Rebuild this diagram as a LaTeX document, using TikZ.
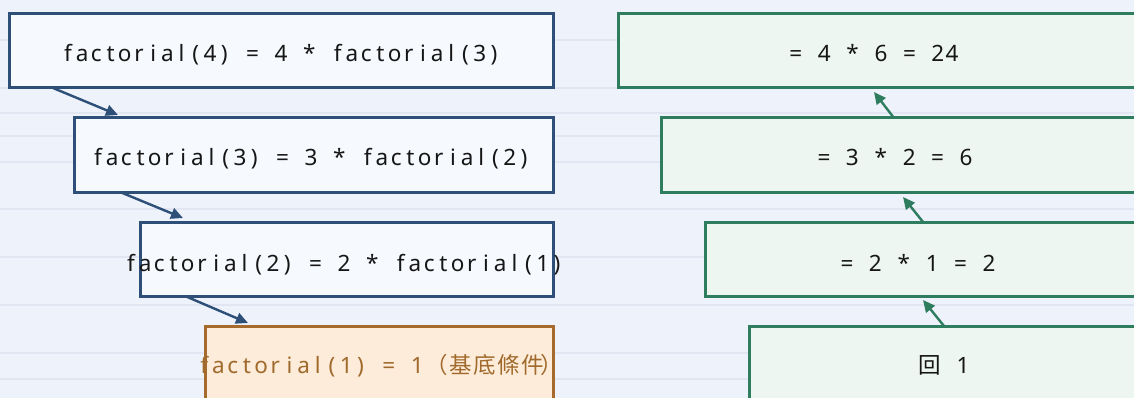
\documentclass[tikz,border=0pt]{standalone}
\usepackage{fontspec}
\setmainfont{Noto Sans}
\newfontfamily\cjk{Noto Sans CJK TC}
\usetikzlibrary{arrows.meta,calc}

\definecolor{bg}{HTML}{EEF2FA}
\definecolor{rule}{HTML}{E1E6F2}
\definecolor{callline}{HTML}{2E4F78}
\definecolor{callfill}{HTML}{F6F9FD}
\definecolor{retline}{HTML}{2E7D5E}
\definecolor{retfill}{HTML}{EDF6F1}
\definecolor{basecol}{HTML}{A66B2C}
\definecolor{basefill}{HTML}{FDECD9}
\definecolor{basetext}{HTML}{A06A2C}
\definecolor{ink}{HTML}{161616}

% set a string one character per fixed-width cell (spaces written as ~)
\newlength\cellwd
\newcommand\cells[2]{\setlength\cellwd{#1}\cellloop#2\relax}
\def\cellloop#1{\ifx\relax#1\else\makebox[\cellwd][c]{#1}\expandafter\cellloop\fi}

\tikzset{
  box/.style={draw, line width=3pt, inner sep=0pt, outer sep=0pt,
    anchor=north west, minimum height=74pt},
  callbox/.style={box, draw=callline, fill=callfill},
  retbox/.style={box, draw=retline, fill=retfill, minimum width=560pt},
  basebox/.style={box, draw=basecol, fill=basefill},
  boxtext/.style={inner sep=0pt, anchor=base, text=ink,
    font=\fontsize{22.5}{27}\selectfont},
  callarrow/.style={draw=callline, line width=2.4pt,
    -{Triangle[length=12pt,width=11pt]}},
  retarrow/.style={draw=retline, line width=2.4pt,
    -{Triangle[length=12pt,width=11pt]}},
}

\begin{document}
\begin{tikzpicture}[x=1pt,y=-1pt]
\useasboundingbox (0,0) rectangle (1134,398);
\clip (0,0) rectangle (1134,398);

% ruled background
\fill[bg] (0,0) rectangle (1134,398);
\foreach \yy in {40,88,113,136,162,209,257,305,353,379}
  \draw[rule, line width=2.5pt] (0,\yy) -- (1134,\yy);

% recursive calls going down
\node[callbox, minimum width=544pt] (c4) at (9,14) {};
\node[callbox, minimum width=479pt] (c3) at (74,118) {};
\node[callbox, minimum width=413pt] (c2) at (140,222) {};
\node[basebox, minimum width=348pt] (c1) at (205,326) {};

% returned values going up
\node[retbox] (r4) at (618,14) {};
\node[retbox] (r3) at (661,118) {};
\node[retbox] (r2) at (705,222) {};
\node[retbox] (r1) at (749,326) {};

% texts
\node[boxtext] (t4) at (281,62) {\cells{14.2pt}{factorial(4)~=~4~*~factorial(3)}};
\node[boxtext] (t3) at (311,166) {\cells{14.2pt}{factorial(3)~=~3~*~factorial(2)}};
\node[boxtext] (t2) at (344,271) {\cells{14.2pt}{factorial(2)~=~2~*~factorial(1)}};
\node[boxtext, anchor=base west, text=basetext] (t1) at (197,373)
  {\cells{14.2pt}{factorial(1)~=~1}{\cjk\cells{24pt}{（基底條件}\kern-5pt\cells{24pt}{）}}};

\node[boxtext] (s4) at (874,62) {\cells{14.2pt}{=~4~*~6~=~24}};
\node[boxtext] (s3) at (895,166) {\cells{14.2pt}{=~3~*~2~=~6}};
\node[boxtext] (s2) at (918,271) {\cells{14.2pt}{=~2~*~1~=~2}};
\node[boxtext] (s1) at (944,373) {{\cjk\cells{24pt}{回}}\cells{14.2pt}{~1}};

% call arrows
\draw[callarrow] ($(c4.south west)+(44,0)$) -- ($(c3.north west)+(44,-3)$);
\draw[callarrow] ($(c3.south west)+(46,0)$) -- ($(c2.north west)+(43,-4)$);
\draw[callarrow] ($(c2.south west)+(45,0)$) -- ($(c1.north west)+(43,-3)$);

% return arrows
\draw[retarrow] ($(r3.north west)+(233,0)$) -- ($(r4.south west)+(256,4)$);
\draw[retarrow] ($(r2.north west)+(218,0)$) -- ($(r3.south west)+(242,5)$);
\draw[retarrow] ($(r1.north west)+(195,0)$) -- ($(r2.south west)+(218,4)$);
\end{tikzpicture}
\end{document}
